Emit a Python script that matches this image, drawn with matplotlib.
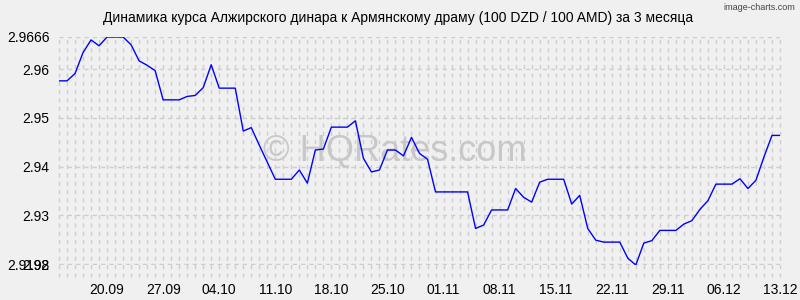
import matplotlib
matplotlib.use('Agg')
import matplotlib.pyplot as plt
import pandas as pd

plt.rcParams['font.family'] = ['Liberation Sans', 'DejaVu Sans']
plt.rcParams['lines.scale_dashes'] = False

title = 'Динамика курса Алжирского динара к Армянскому драму (100 DZD / 100 AMD) за 3 месяца'
credit = 'image-charts.com'
watermark = '© HQRates.com'

# one value per day, 14.09 .. 13.12
dates = pd.date_range('2023-09-14', '2023-12-13', freq='D')
rates = [
    2.9576, 2.9576, 2.9591, 2.9634, 2.9660, 2.9648, 2.9666, 2.9666, 2.9666, 2.9650,
    2.9617, 2.9608, 2.9597, 2.9537, 2.9537, 2.9537, 2.9544, 2.9546, 2.9562, 2.9609,
    2.9561, 2.9561, 2.9561, 2.9473, 2.9480, 2.9444, 2.9409, 2.9374, 2.9374, 2.9374,
    2.9393, 2.9366, 2.9434, 2.9436, 2.9481, 2.9481, 2.9481, 2.9494, 2.9417, 2.9389,
    2.9393, 2.9434, 2.9434, 2.9422, 2.9460, 2.9427, 2.9415, 2.9348, 2.9348, 2.9348,
    2.9348, 2.9348, 2.9273, 2.9280, 2.9311, 2.9311, 2.9311, 2.9355, 2.9337, 2.9327,
    2.9368, 2.9374, 2.9374, 2.9374, 2.9323, 2.9341, 2.9273, 2.9249, 2.9245, 2.9245,
    2.9245, 2.9212, 2.9198, 2.9243, 2.9248, 2.9269, 2.9269, 2.9269, 2.9282, 2.9289,
    2.9312, 2.9330, 2.9364, 2.9364, 2.9364, 2.9375, 2.9355, 2.9372, 2.9420, 2.9464,
    2.9464,
]

x_labels = ['20.09', '27.09', '04.10', '11.10', '18.10', '25.10', '01.11',
            '08.11', '15.11', '22.11', '29.11', '06.12', '13.12']
y_ticks = [2.9198, 2.92, 2.93, 2.94, 2.95, 2.96, 2.9666]
y_labels = ['2.9198', '2.92', '2.93', '2.94', '2.95', '2.96', '2.9666']

bg = '#f0f0f0'
grid_col = '#cdcdcd'
dash = (0, (3, 3))

fig = plt.figure(figsize=(8, 3), dpi=100, facecolor=bg)
ax = fig.add_axes([59 / 800, 35 / 300, 721 / 800, 228 / 300])
ax.set_facecolor(bg)

# dashed grid: one vertical line per day, reaching a bit below the plot
for d in dates:
    ax.axvline(d, ymin=-0.053, ymax=1, color=grid_col, lw=1, ls=dash,
               clip_on=False, zorder=1)
for v in y_ticks:
    ax.axhline(v, color=grid_col, lw=1, ls=dash, zorder=1)

ax.text(0.466, 0.5, watermark, transform=ax.transAxes, fontsize=26,
        color='#c8c8c8', ha='center', va='center', zorder=2)

ax.plot(dates, rates, color='#0000ff', lw=1, zorder=3)

ax.set_xlim(dates[0], dates[-1])
ax.set_ylim(min(rates), max(rates))

tick_dates = [d for d in dates if d.strftime('%d.%m') in x_labels]
ax.set_xticks(tick_dates, x_labels)
ax.set_yticks(y_ticks, y_labels)
ax.tick_params(axis='x', length=0, pad=13, labelsize=10)
ax.tick_params(axis='y', length=0, pad=7, labelsize=10)
for s in ax.spines.values():
    s.set_visible(False)

fig.text(0.4975, 1 - 18 / 300, title, ha='center', va='center', fontsize=10)
fig.text(795 / 800, 1 - 8 / 300, credit, ha='right', va='center',
         fontsize=6.5, color='#444444')

fig.savefig('out.png', dpi=100, facecolor=bg)
